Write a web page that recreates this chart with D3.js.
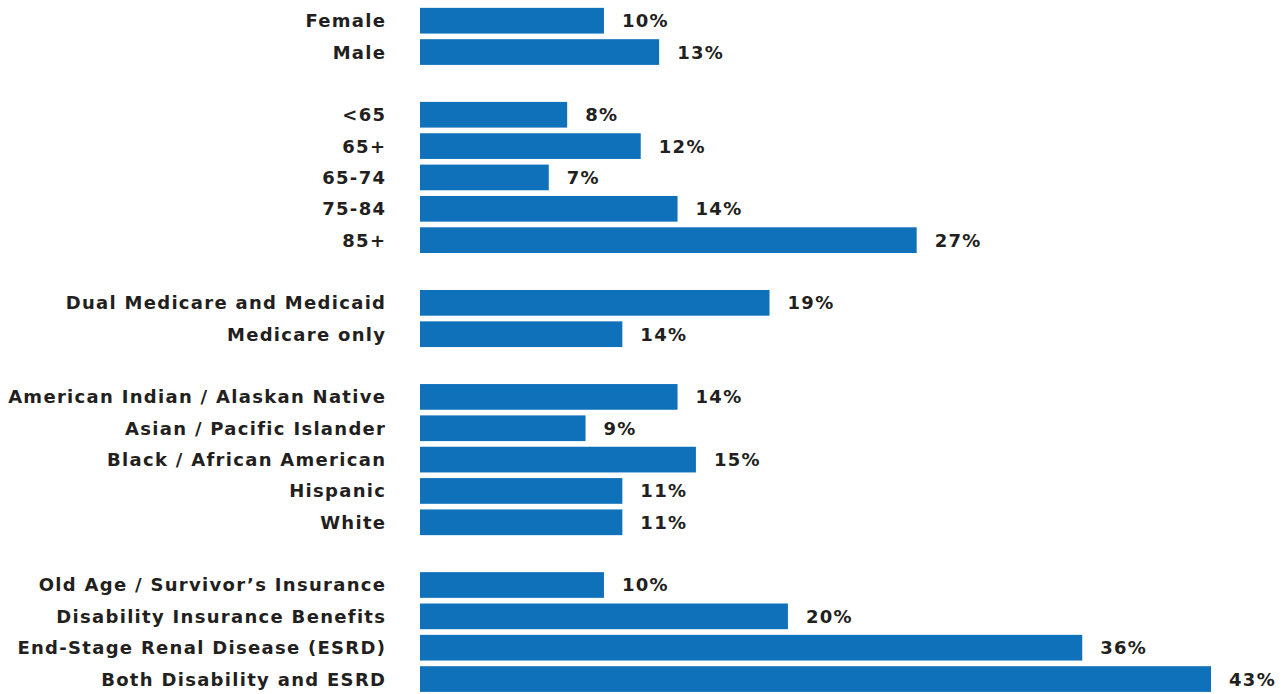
<!DOCTYPE html>
<html>
<head>
<meta charset="utf-8">
<script src="https://cdn.jsdelivr.net/npm/d3@7"></script>
<style>
  html, body { margin: 0; padding: 0; background: #ffffff; }
  svg { display: block; }
  text { font-family: "DejaVu Sans", sans-serif; font-weight: bold; fill: #231f20; letter-spacing: 1.3px; }
</style>
</head>
<body>
<svg id="chart" width="1284" height="694"></svg>
<script>
// ---- data ----
const sexCategories = ["Female", "Male"];
const sexValues = [10, 13];
const sexLabels = ["10%", "13%"];
const ageCategories = ["<65", "65+", "65-74", "75-84", "85+"];
const ageValues = [8, 12, 7, 14, 27];
const ageLabels = ["8%", "12%", "7%", "14%", "27%"];
const eligibilityCategories = ["Dual Medicare and Medicaid", "Medicare only"];
const eligibilityValues = [19, 11];          // bar length as drawn in the picture
const eligibilityLabels = ["19%", "14%"];    // label as printed in the picture
const raceCategories = ["American Indian / Alaskan Native", "Asian / Pacific Islander", "Black / African American", "Hispanic", "White"];
const raceValues = [14, 9, 15, 11, 11];
const raceLabels = ["14%", "9%", "15%", "11%", "11%"];
const entitlementCategories = ["Old Age / Survivor\u2019s Insurance", "Disability Insurance Benefits", "End-Stage Renal Disease (ESRD)", "Both Disability and ESRD"];
const entitlementValues = [10, 20, 36, 43];
const entitlementLabels = ["10%", "20%", "36%", "43%"];

// ---- build rows (blank spacer rows between groups) ----
const groups = [
  [sexCategories, sexValues, sexLabels],
  [ageCategories, ageValues, ageLabels],
  [eligibilityCategories, eligibilityValues, eligibilityLabels],
  [raceCategories, raceValues, raceLabels],
  [entitlementCategories, entitlementValues, entitlementLabels]
];
const rows = [];
groups.forEach(([cats, vals, labs], gi) => {
  if (gi > 0) rows.push({ key: "gap" + gi, label: null, value: null });
  cats.forEach((c, i) => rows.push({ key: c, label: c, value: vals[i], text: labs[i] }));
});

const svg = d3.select("#chart");
const x = d3.scaleLinear().domain([0, 43]).range([420, 1211]);
const step = 31.35;
const y = d3.scaleBand()
  .domain(rows.map(r => r.key))
  .range([20.7 - step / 2, 20.7 - step / 2 + step * rows.length])
  .paddingInner(0.18)
  .paddingOuter(0.09);

const data = rows.filter(r => r.value !== null);

svg.append("g").selectAll("rect")
  .data(data)
  .join("rect")
  .attr("x", x(0))
  .attr("y", d => y(d.key))
  .attr("width", d => x(d.value) - x(0))
  .attr("height", y.bandwidth())
  .attr("fill", "#1071bb");

svg.append("g").selectAll("text")
  .data(data)
  .join("text")
  .attr("x", 386.3)
  .attr("y", d => y(d.key) + y.bandwidth() / 2)
  .attr("dy", "0.36em")
  .attr("text-anchor", "end")
  .style("font-size", "18px")
  .text(d => d.label);

svg.append("g").selectAll("text")
  .data(data)
  .join("text")
  .attr("x", d => x(d.value) + 18)
  .attr("y", d => y(d.key) + y.bandwidth() / 2)
  .attr("dy", "0.36em")
  .attr("text-anchor", "start")
  .style("font-size", "18px")
  .text(d => d.text);
</script>
</body>
</html>
